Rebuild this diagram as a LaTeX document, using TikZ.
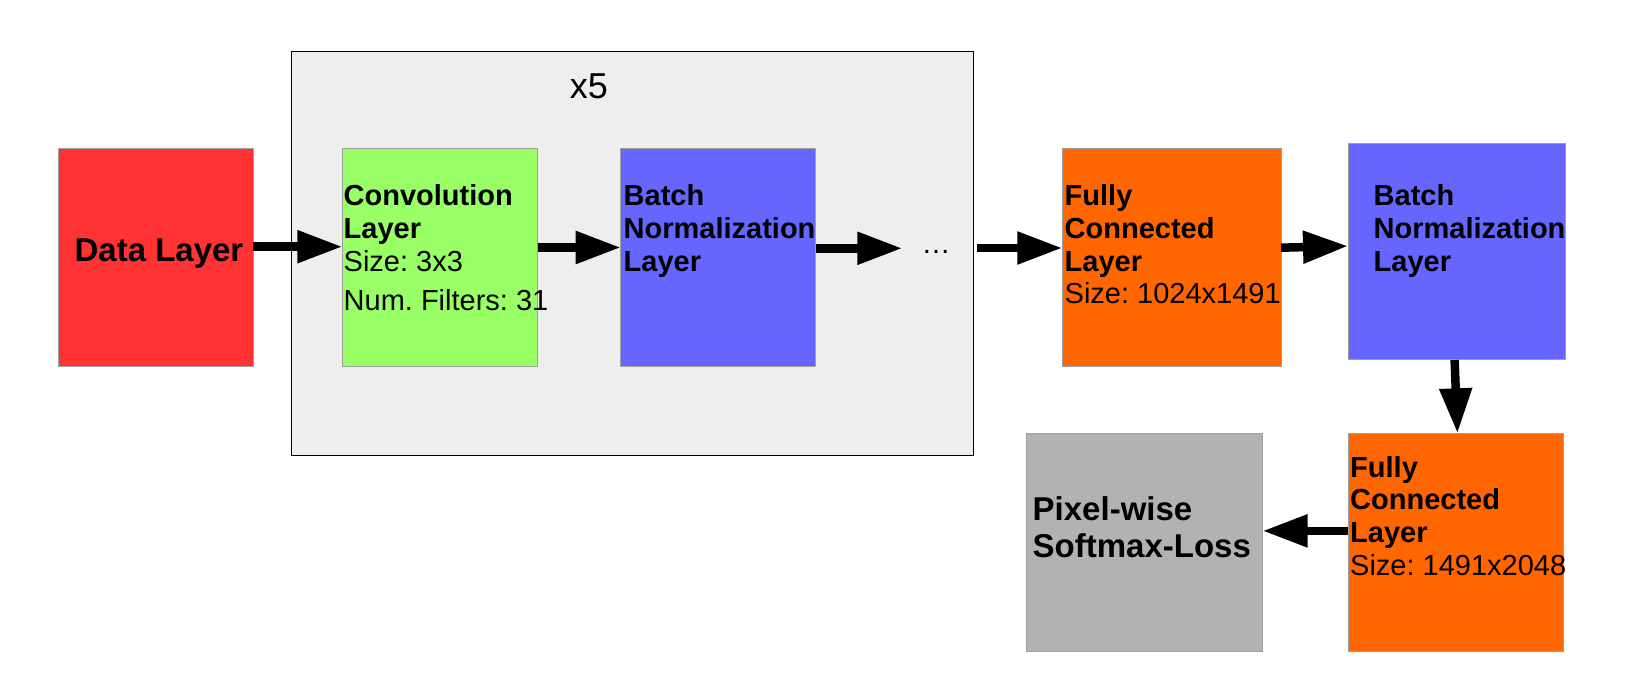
\documentclass[tikz,border=0pt]{standalone}
\usepackage{fontspec}
\setmainfont{Liberation Sans}
\usetikzlibrary{arrows.meta}
\definecolor{cred}{HTML}{FF3333}
\definecolor{cgreen}{HTML}{99FF66}
\definecolor{cblue}{HTML}{6666FF}
\definecolor{corange}{HTML}{FF6600}
\definecolor{cgray}{HTML}{B2B2B2}
\definecolor{cbg}{HTML}{EEEEEE}
\definecolor{cborder}{HTML}{A0A0A0}
\frenchspacing
\begin{document}
\begin{tikzpicture}[x=1pt,y=-1pt,
  layerbox/.style={draw=cborder, line width=1pt, inner sep=0pt, outer sep=0pt, anchor=north west},
  lbl/.style={anchor=north west, inner sep=0pt, align=left, font=\fontsize{29}{32.8}\selectfont\frenchspacing},
  biglbl/.style={anchor=north west, inner sep=0pt, align=left, font=\fontsize{33}{37.3}\selectfont\bfseries},
  flow/.style={line width=8.5pt, -{Triangle[length=45pt,width=31pt]}}]
\useasboundingbox (0,0) rectangle (1650,700);

% repeat block
\node[draw=black, line width=1.3pt, fill=cbg, anchor=north west, inner sep=0pt, outer sep=0pt,
      minimum width=682pt, minimum height=404.2pt] (rep) at (291.4,51.4) {};
\node[anchor=base, inner sep=0pt, font=\fontsize{36}{40}\selectfont] (reptxt) at (589,99) {x5};

% boxes
\node[layerbox, fill=cred, minimum width=195pt, minimum height=217.8pt] (data) at (58.4,148.3) {};
\node[layerbox, fill=cgreen, minimum width=195.2pt, minimum height=217.8pt] (conv) at (342.3,148.3) {};
\node[layerbox, fill=cblue, minimum width=195pt, minimum height=217.8pt] (bn1) at (620.7,148.3) {};
\node[layerbox, fill=corange, minimum width=218.7pt, minimum height=217.8pt] (fc1) at (1062.3,148.3) {};
\node[layerbox, fill=cblue, minimum width=217.2pt, minimum height=216.7pt] (bn2) at (1348,143.3) {};
\node[layerbox, fill=corange, minimum width=215.5pt, minimum height=218.2pt] (fc2) at (1348,433.3) {};
\node[layerbox, fill=cgray, minimum width=236.6pt, minimum height=218.2pt] (loss) at (1026,433.3) {};

% texts
\node[anchor=base, inner sep=0pt, font=\fontsize{33}{37}\selectfont\bfseries] (datatxt) at (159,262) {Data Layer};
\node[lbl] (convtxt) at (343.5,184.2) {\textbf{Convolution}\\\textbf{Layer}\\Size: 3x3\\[7pt]Num. Filters: 31};
\node[lbl] (bn1txt) at (623.5,184.2) {\textbf{Batch}\\\textbf{Normalization}\\\textbf{Layer}};
\node[lbl] (fc1txt) at (1064.5,184.2) {\textbf{Fully}\\\textbf{Connected}\\\textbf{Layer}\\Size: 1024x1491};
\node[lbl] (bn2txt) at (1373.5,184.2) {\textbf{Batch}\\\textbf{Normalization}\\\textbf{Layer}};
\node[lbl] (fc2txt) at (1350,455.9) {\textbf{Fully}\\\textbf{Connected}\\\textbf{Layer}\\Size: 1491x2048};
\node[biglbl] (losstxt) at (1032.5,496.4) {Pixel-wise\\Softmax-Loss};

\node[anchor=base, inner xsep=19pt, inner ysep=0pt, font=\fontsize{29}{33}\selectfont] (dots) at (936,254) {…};

% connectors
\draw[flow] ([yshift=10.5pt]data.east) -- ([yshift=10.5pt]data.east -| conv.west);
\draw[flow] ([yshift=9.7pt]conv.east) -- ([yshift=9.7pt]conv.east -| bn1.west);
\draw[flow] ([yshift=8.9pt]bn1.east) -- ([yshift=8.9pt]bn1.east -| dots.west);
\draw[flow] ([xshift=7pt,yshift=9.2pt]fc1.west -| dots.east) -- ([yshift=9.2pt]fc1.west);
\draw[flow] ([yshift=9.5pt]fc1.east) -- ([yshift=5.6pt]bn2.west);
\draw[flow] ([xshift=-2pt]bn2.south) -- ([xshift=1.7pt]fc2.north);
\draw[flow] ([yshift=11.5pt]fc2.west) -- ([yshift=11.5pt]fc2.west -| loss.east);
\end{tikzpicture}
\end{document}
